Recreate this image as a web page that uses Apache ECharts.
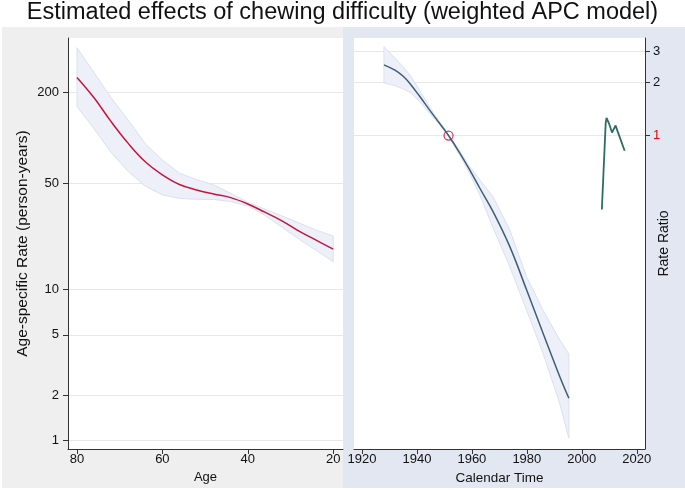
<!DOCTYPE html>
<html><head><meta charset="utf-8">
<script src="https://cdn.jsdelivr.net/npm/echarts@6/dist/echarts.min.js"></script>
<style>html,body{margin:0;padding:0;background:#fff}#c{width:685px;height:490px}</style>
</head><body><div id="c"></div>
<script>
// ---- data ----
const ageX      = [80, 76, 72, 68, 64, 60, 56, 52, 48, 44, 40, 36, 32, 28, 24, 20];
const ageRate   = [251, 184, 128, 92, 69.5, 57, 49.2, 45.3, 42.6, 40.3, 36.6, 32.3, 28.3, 24.2, 21.1, 18.4];
const ageUpper  = [394, 270, 184, 131, 91.5, 71.5, 58.5, 53, 49, 43, 37.6, 33.8, 30.5, 27.4, 24.6, 22.5];
const ageLower  = [161, 115, 80, 60, 48, 42, 39.8, 39.3, 39.2, 38, 35.5, 30.8, 25.7, 21.4, 18.1, 15.2];

const cohortX     = [1928, 1932, 1935, 1937.5, 1941, 1944.7, 1948.3, 1951.5, 1955.6, 1959.2, 1962.9, 1967.7, 1973.8, 1979.9, 1985.9, 1992, 1995.3];
const cohortRR    = [2.52, 2.35, 2.17, 1.97, 1.67, 1.39, 1.17, 1.0, 0.795, 0.638, 0.502, 0.37, 0.234, 0.133, 0.0754, 0.0427, 0.0322];
const cohortUpper = [3.2, 2.75, 2.45, 2.2, 1.8, 1.45, 1.19, 1.01, 0.82, 0.665, 0.56, 0.45, 0.291, 0.158, 0.102, 0.069, 0.0575];
const cohortLower = [1.99, 1.92, 1.84, 1.76, 1.56, 1.33, 1.15, 0.99, 0.77, 0.61, 0.46, 0.30, 0.180, 0.102, 0.058, 0.030, 0.0191];

const periodX  = [2007.3, 2008.7, 2009, 2010, 2011, 2012.3, 2013, 2014, 2015, 2015.6];
const periodRR = [0.38, 1.18, 1.26, 1.16, 1.04, 1.14, 1.06, 0.96, 0.87, 0.82];

const refPoint = [1951.5, 1];

const ageTicks  = [80, 60, 40, 20];
const rateTicks = [1, 2, 5, 10, 50, 200];
const yearTicks = [1920, 1940, 1960, 1980, 2000, 2020];
const rrTicks   = [1, 2, 3];

const titleText = 'Estimated effects of chewing difficulty (weighted APC model)';

// ---- build ----
const L = v => Math.log10(v);
const FONT = "'Liberation Sans', Arial, sans-serif";
const unlog = v => String(Math.round(Math.pow(10, v)));
const plain = v => String(Math.round(v));

function bandItem(xs, up, lo) {
  return function (params, api) {
    const pts = [];
    for (let i = 0; i < xs.length; i++) pts.push(api.coord([xs[i], L(up[i])]));
    for (let i = xs.length - 1; i >= 0; i--) pts.push(api.coord([xs[i], L(lo[i])]));
    return { type: 'polygon', shape: { points: pts },
      style: { fill: '#edf0f8', stroke: '#dbe1ee', lineWidth: 1 } };
  };
}
const pairs = (xs, ys) => xs.map((x, i) => [x, L(ys[i])]);

const axisLineStyle = { show: true, onZero: false, lineStyle: { color: '#333', width: 1 } };
const tickStyle = { show: true, length: 5, lineStyle: { color: '#333' } };
const labelStyle = { color: '#111', fontSize: 13, fontFamily: FONT, margin: 4 };

const chart = echarts.init(document.getElementById('c'), null, { renderer: 'canvas' });
chart.setOption({
  animation: false,
  backgroundColor: '#fff',
  title: { text: titleText, left: 'center', top: 1, padding: [0, 5],
    textStyle: { fontSize: 23.5, fontWeight: 'normal', color: '#111', fontFamily: FONT } },
  graphic: [
    { type: 'rect', z: -100, silent: true, shape: { x: 2, y: 27, width: 341, height: 461 }, style: { fill: '#efefef' } },
    { type: 'rect', z: -100, silent: true, shape: { x: 343, y: 27, width: 342, height: 461 }, style: { fill: '#e2e7f1' } }
  ],
  grid: [
    { left: 68, top: 38, width: 275, height: 411, show: true, backgroundColor: '#fff', borderWidth: 0 },
    { left: 354, top: 38, width: 291, height: 411, show: true, backgroundColor: '#fff', borderWidth: 0 }
  ],
  xAxis: [
    { type: 'value', gridIndex: 0, inverse: true, min: 17.7, max: 82.1,
      name: 'Age', nameLocation: 'middle', nameGap: 21,
      nameTextStyle: { fontSize: 13, color: '#111', fontFamily: FONT },
      axisLine: axisLineStyle, axisTick: Object.assign({ customValues: ageTicks }, tickStyle),
      axisLabel: Object.assign({}, labelStyle, { customValues: ageTicks, formatter: plain }), splitLine: { show: false } },
    { type: 'value', gridIndex: 1, min: 1917.1, max: 2023,
      name: 'Calendar Time', nameLocation: 'middle', nameGap: 21,
      nameTextStyle: { fontSize: 13.5, color: '#111', fontFamily: FONT },
      axisLine: axisLineStyle, axisTick: Object.assign({ customValues: yearTicks }, tickStyle),
      axisLabel: Object.assign({}, labelStyle, { customValues: yearTicks, formatter: plain }), splitLine: { show: false } }
  ],
  yAxis: [
    { type: 'value', gridIndex: 0, min: L(0.88), max: L(457),
      name: 'Age-specific Rate (person-years)', nameLocation: 'middle', nameGap: 37, nameRotate: 90,
      nameTextStyle: { fontSize: 15.5, color: '#111', fontFamily: FONT },
      axisLine: axisLineStyle,
      axisTick: Object.assign({ customValues: rateTicks.map(L) }, tickStyle),
      axisLabel: Object.assign({}, labelStyle, { customValues: rateTicks.map(L), formatter: unlog, margin: 9 }),
      splitLine: { show: true, lineStyle: { color: '#e8e8e8', width: 1 } } },
    { type: 'value', gridIndex: 1, position: 'right', min: L(0.0166), max: L(3.58),
      name: 'Rate Ratio', nameLocation: 'middle', nameGap: 12, nameRotate: 90, nameMoveOverlap: false,
      nameTextStyle: { fontSize: 14, color: '#111', fontFamily: FONT },
      axisLine: axisLineStyle,
      axisTick: Object.assign({ customValues: rrTicks.map(L) }, tickStyle),
      axisLabel: Object.assign({}, labelStyle, { customValues: rrTicks.map(L), formatter: unlog, margin: 8,
        color: v => (Math.abs(v) < 1e-9 ? '#e8000b' : '#111') }),
      splitLine: { show: true, lineStyle: { color: '#e8e8e8', width: 1 } } }
  ],
  series: [
    { type: 'custom', xAxisIndex: 0, yAxisIndex: 0, renderItem: bandItem(ageX, ageUpper, ageLower),
      data: [[ageX[0], L(ageRate[0])]], z: 1, silent: true },
    { type: 'line', xAxisIndex: 0, yAxisIndex: 0, data: pairs(ageX, ageRate), smooth: 0.4,
      showSymbol: false, lineStyle: { color: '#c8143c', width: 1.5 }, z: 3 },
    { type: 'custom', xAxisIndex: 1, yAxisIndex: 1, renderItem: bandItem(cohortX, cohortUpper, cohortLower),
      data: [[cohortX[0], L(cohortRR[0])]], z: 1, silent: true },
    { type: 'line', xAxisIndex: 1, yAxisIndex: 1, data: pairs(cohortX, cohortRR), smooth: 0.4,
      showSymbol: false, lineStyle: { color: '#3d5d78', width: 1.5 }, z: 3 },
    { type: 'line', xAxisIndex: 1, yAxisIndex: 1, data: pairs(periodX, periodRR),
      showSymbol: false, lineStyle: { color: '#2e6d60', width: 1.8 }, z: 3 },
    { type: 'scatter', xAxisIndex: 1, yAxisIndex: 1, data: [[refPoint[0], L(refPoint[1])]],
      symbol: 'circle', symbolSize: 9,
      itemStyle: { color: 'rgba(0,0,0,0)', borderColor: '#d0103a', borderWidth: 1.3 }, z: 4 }
  ]
});
</script></body></html>
